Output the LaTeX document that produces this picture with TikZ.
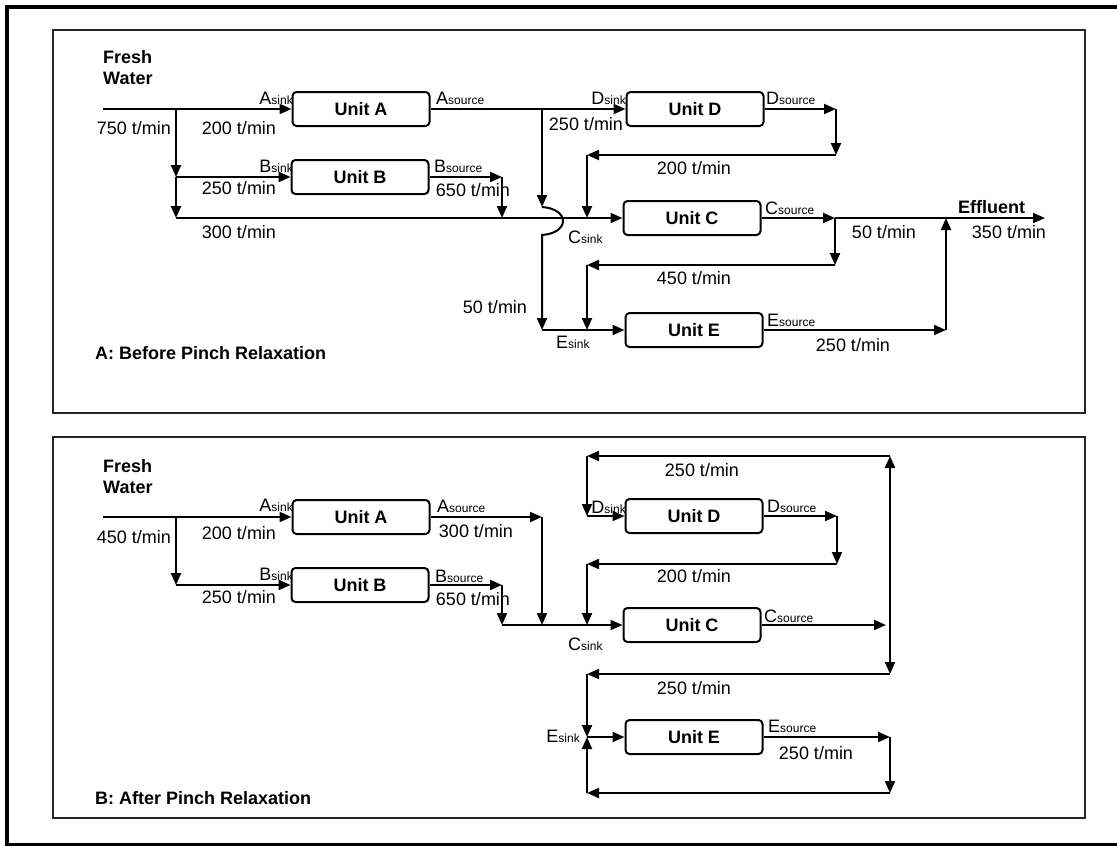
\documentclass[tikz,border=0pt]{standalone}
\usepackage{fontspec}
\setmainfont{Liberation Sans}
\usetikzlibrary{arrows.meta}
\newcommand{\sbx}[1]{{\fontsize{12}{12}\selectfont #1}}
\tikzset{
  unit/.style={draw, line width=2pt, rounded corners=4pt, minimum width=137pt,
    minimum height=34pt, inner sep=0pt, font=\bfseries\fontsize{18}{20}\selectfont},
  flow/.style={line width=2pt, -{Triangle[length=12pt,width=10pt]}},
  lbl/.style={font=\fontsize{18}{20}\selectfont, inner sep=0pt},
  ttl/.style={font=\bfseries\fontsize{18}{21}\selectfont, inner sep=0pt, align=left},
  panel/.style={line width=1.5pt, black!85}
}
\begin{document}
\begin{tikzpicture}[x=1pt,y=-1pt]
\clip (0,0) rectangle (1117,846);
\fill[white] (0,0) rectangle (1117,846);
\draw[line width=3.5pt] (7,7) rectangle (1135,845);
\draw[panel] (53,30) rectangle (1085,413);
\draw[panel] (53,437) rectangle (1085,818);

% ---------------- Panel A ----------------
\node[unit] (uA) at (361,109) {Unit A};
\node[unit] (uB) at (360,177) {Unit B};
\node[unit] (uD) at (695,109) {Unit D};
\node[unit] (uC) at (692,218) {Unit C};
\node[unit] (uE) at (694,330) {Unit E};

\coordinate (fw1) at (103,109);
\coordinate (j1) at (176,109);
\coordinate (j2) at (176,177);
\coordinate (j3) at (176,218);
\coordinate (b1) at (502,177);
\coordinate (b2) at (502,218);
\coordinate (a1) at (542,109);
\coordinate (h1) at (542,207);
\coordinate (h2) at (542,235);
\coordinate (e0) at (542,330);
\coordinate (d1) at (836,109);
\coordinate (d2) at (836,155);
\coordinate (d3) at (587,155);
\coordinate (c1) at (587,218);
\coordinate (c2) at (835,218);
\coordinate (eff) at (1045,218);
\coordinate (c3) at (835,265);
\coordinate (c4) at (587,265);
\coordinate (e1) at (587,330);
\coordinate (e2) at (946,330);
\coordinate (c5) at (946,218);

\draw[flow] (fw1) -- (uA.west);
\draw[flow] (j1) -- (j2);
\draw[flow] (j2) -- (j3);
\draw[flow] (j2) -- (uB.west);
\draw[flow] (j3) -- (uC.west);
\draw[flow] (uB.east) -- (b1);
\draw[flow] (b1) -- (b2);
\draw[flow] (uA.east) -- (uD.west);
\draw[flow] (a1) -- (h1);
\draw[flow] (h1) .. controls (570,209) and (570,233) .. (h2) -- (e0);
\draw[flow] (e0) -- (uE.west);
\draw[flow] (uD.east) -- (d1);
\draw[flow] (d1) -- (d2);
\draw[flow] (d2) -- (d3);
\draw[flow] (d3) -- (c1);
\draw[flow] (uC.east) -- (c2);
\draw[flow] (c2) -- (eff);
\draw[flow] (c2) -- (c3);
\draw[flow] (c3) -- (c4);
\draw[flow] (c4) -- (e1);
\draw[flow] (uE.east) -- (e2);
\draw[flow] (e2) -- (c5);

\node[ttl, anchor=base west] (fwA) at (103,84) {Fresh\\Water};
\node[lbl] (l1) at (134,128) {750 t/min};
\node[lbl, anchor=base east] (l2) at (293,104) {A\sbx{sink}};
\node[lbl] (l3) at (239,128) {200 t/min};
\node[lbl, anchor=base west] (l4) at (436,104) {A\sbx{source}};
\node[lbl, anchor=base east] (l5) at (293,172) {B\sbx{sink}};
\node[lbl] (l6) at (239,188) {250 t/min};
\node[lbl, anchor=base west] (l7) at (434,172) {B\sbx{source}};
\node[lbl] (l8) at (473,190) {650 t/min};
\node[lbl] (l9) at (239,232) {300 t/min};
\node[lbl, anchor=base east] (l10) at (626,104) {D\sbx{sink}};
\node[lbl] (l11) at (586,124) {250 t/min};
\node[lbl, anchor=base west] (l12) at (766,104) {D\sbx{source}};
\node[lbl] (l13) at (694,168) {200 t/min};
\node[lbl, anchor=base west] (l14) at (568,243) {C\sbx{sink}};
\node[lbl, anchor=base west] (l15) at (765,214) {C\sbx{source}};
\node[lbl] (l16) at (884,232) {50 t/min};
\node[ttl, anchor=base west] (l17) at (958,213) {Effluent};
\node[lbl] (l18) at (1009,232) {350 t/min};
\node[lbl] (l19) at (694,278) {450 t/min};
\node[lbl] (l20) at (495,307) {50 t/min};
\node[lbl, anchor=base west] (l21) at (556,348) {E\sbx{sink}};
\node[lbl, anchor=base west] (l22) at (767,326) {E\sbx{source}};
\node[lbl] (l23) at (853,345) {250 t/min};
\node[ttl, anchor=west] (tA) at (95,353) {A: Before Pinch Relaxation};

% ---------------- Panel B ----------------
\node[unit] (vA) at (361,517) {Unit A};
\node[unit] (vB) at (360,585) {Unit B};
\node[unit] (vD) at (694,516) {Unit D};
\node[unit] (vC) at (692,625) {Unit C};
\node[unit] (vE) at (694,737) {Unit E};

\coordinate (fw2) at (103,517);
\coordinate (k1) at (176,517);
\coordinate (k2) at (176,585);
\coordinate (a2) at (542,517);
\coordinate (a3) at (542,625);
\coordinate (b3) at (502,585);
\coordinate (b4) at (502,625);
\coordinate (r1) at (890,456);
\coordinate (q1) at (587,456);
\coordinate (q2) at (587,516);
\coordinate (d4) at (837,516);
\coordinate (d5) at (837,564);
\coordinate (q3) at (587,564);
\coordinate (q4) at (587,625);
\coordinate (r0) at (886,625);
\coordinate (r2) at (890,625);
\coordinate (r3) at (890,674);
\coordinate (q5) at (587,674);
\coordinate (q6) at (587,737);
\coordinate (r4) at (890,737);
\coordinate (r5) at (890,793);
\coordinate (q7) at (587,793);

\draw[flow] (fw2) -- (vA.west);
\draw[flow] (k1) -- (k2);
\draw[flow] (k2) -- (vB.west);
\draw[flow] (vA.east) -- (a2);
\draw[flow] (a2) -- (a3);
\draw[flow] (vB.east) -- (b3);
\draw[flow] (b3) -- (b4);
\draw[flow] (b4) -- (vC.west);
\draw[flow] (r1) -- (q1);
\draw[flow] (q1) -- (q2);
\draw[flow] (q2) -- (vD.west);
\draw[flow] (vD.east) -- (d4);
\draw[flow] (d4) -- (d5);
\draw[flow] (d5) -- (q3);
\draw[flow] (q3) -- (q4);
\draw[flow] (vC.east) -- (r0);
\draw[flow] (r2) -- (r1);
\draw[flow] (r2) -- (r3);
\draw[flow] (r3) -- (q5);
\draw[flow] (q5) -- (q6);
\draw[flow] (q6) -- (vE.west);
\draw[flow] (vE.east) -- (r4);
\draw[flow] (r4) -- (r5);
\draw[flow] (r5) -- (q7);
\draw[flow] (q7) -- (q6);

\node[ttl, anchor=base west] (fwB) at (103,493) {Fresh\\Water};
\node[lbl] (m1) at (134,537) {450 t/min};
\node[lbl, anchor=base east] (m2) at (293,511) {A\sbx{sink}};
\node[lbl] (m3) at (239,533) {200 t/min};
\node[lbl, anchor=base west] (m4) at (437,512) {A\sbx{source}};
\node[lbl] (m5) at (476,531) {300 t/min};
\node[lbl, anchor=base east] (m6) at (293,580) {B\sbx{sink}};
\node[lbl] (m7) at (239,597) {250 t/min};
\node[lbl, anchor=base west] (m8) at (435,582) {B\sbx{source}};
\node[lbl] (m9) at (473,599) {650 t/min};
\node[lbl] (m10) at (702,470) {250 t/min};
\node[lbl, anchor=base east] (m11) at (626,513) {D\sbx{sink}};
\node[lbl, anchor=base west] (m12) at (767,512) {D\sbx{source}};
\node[lbl] (m13) at (694,576) {200 t/min};
\node[lbl, anchor=base west] (m14) at (568,650) {C\sbx{sink}};
\node[lbl, anchor=base west] (m15) at (764,622) {C\sbx{source}};
\node[lbl] (m16) at (694,688) {250 t/min};
\node[lbl, anchor=base east] (m17) at (580,742) {E\sbx{sink}};
\node[lbl, anchor=base west] (m18) at (768,732) {E\sbx{source}};
\node[lbl] (m19) at (816,753) {250 t/min};
\node[ttl, anchor=west] (tB) at (95,798) {B: After Pinch Relaxation};
\end{tikzpicture}
\end{document}
